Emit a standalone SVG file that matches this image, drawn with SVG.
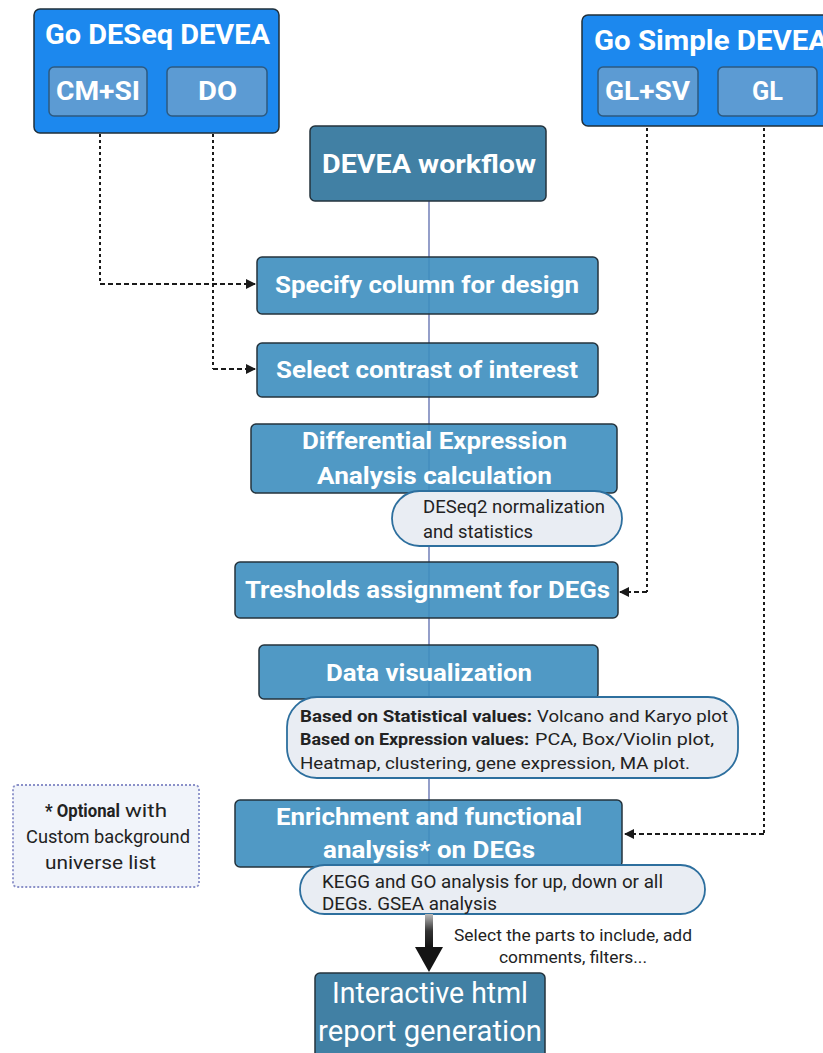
<svg xmlns="http://www.w3.org/2000/svg" width="823" height="1053" viewBox="0 0 823 1053">
<style>
.go{fill:#1c88ee;stroke:#1f2f3a;stroke-width:1.5}
.sub{fill:#5c9bd3;stroke:#2d5a80;stroke-width:1.5}
.step{fill:#3d8ebf;fill-opacity:0.9;stroke:#24333d;stroke-width:1.5}
.dark{fill:#37799f;fill-opacity:0.95;stroke:#24333d;stroke-width:1.5}
.pill{fill:#e9edf3;stroke:#2d6f9e;stroke-width:1.8}
.tw{font-family:Roboto,"Liberation Sans",sans-serif;font-weight:700;fill:#fff}
.tn{font-family:Roboto,"Liberation Sans",sans-serif;fill:#222}
.dot{fill:none;stroke:#1a1a1a;stroke-width:2;stroke-dasharray:3 3}
.dash{fill:none;stroke:#1a1a1a;stroke-width:2;stroke-dasharray:5 3}
</style>
<defs>
<marker id="ah" viewBox="0 0 10 10" refX="9" refY="5" markerWidth="5" markerHeight="5" orient="auto-start-reverse">
<path d="M0,0 L10,5 L0,10 z" fill="#1a1a1a"/>
</marker>
<linearGradient id="shaft" x1="0" y1="0" x2="0" y2="1">
<stop offset="0" stop-color="#bbbbbb"/>
<stop offset="0.5" stop-color="#333333"/>
<stop offset="1" stop-color="#111111"/>
</linearGradient>
</defs>

<g id="connectors">
<line x1="429" y1="201" x2="429" y2="865" stroke="#4e5ea6" stroke-width="1.2"/>
<path class="dot" d="M100,116 V284"/>
<path class="dash" d="M100,284 H255" marker-end="url(#ah)"/>
<path class="dot" d="M213,116 V369"/>
<path class="dash" d="M213,369 H255" marker-end="url(#ah)"/>
<path class="dot" d="M647,116 V592"/>
<path class="dash" d="M647,592 H620" marker-end="url(#ah)"/>
<path class="dot" d="M764,116 V834"/>
<path class="dash" d="M764,834 H625" marker-end="url(#ah)"/>
</g>

<g id="go-deseq">
<rect class="go" x="34" y="9" width="245" height="124" rx="6"/>
<text class="tw" x="45" y="44" font-size="27" textLength="225" lengthAdjust="spacingAndGlyphs">Go DESeq DEVEA</text>
<g id="cmsi"><rect class="sub" x="49" y="67" width="98" height="49" rx="5"/>
<text class="tw" x="56" y="100" font-size="26" textLength="84" lengthAdjust="spacingAndGlyphs">CM+SI</text></g>
<g id="do"><rect class="sub" x="167" y="67" width="100" height="49" rx="5"/>
<text class="tw" x="198" y="100" font-size="26" textLength="39" lengthAdjust="spacingAndGlyphs">DO</text></g>
</g>

<g id="go-simple">
<rect class="go" x="582" y="15" width="250" height="111" rx="6"/>
<text class="tw" x="594" y="50" font-size="27" textLength="234" lengthAdjust="spacingAndGlyphs">Go Simple DEVEA</text>
<g id="glsv"><rect class="sub" x="598" y="67" width="100" height="49" rx="5"/>
<text class="tw" x="605" y="100" font-size="26" textLength="85" lengthAdjust="spacingAndGlyphs">GL+SV</text></g>
<g id="gl"><rect class="sub" x="718" y="67" width="99" height="49" rx="5"/>
<text class="tw" x="752" y="100" font-size="26" textLength="31" lengthAdjust="spacingAndGlyphs">GL</text></g>
</g>

<g id="workflow">
<rect class="dark" x="310" y="126" width="236" height="75" rx="5"/>
<text class="tw" x="322" y="173" font-size="26" textLength="214" lengthAdjust="spacingAndGlyphs">DEVEA workflow</text>
</g>

<g id="specify">
<rect class="step" x="257" y="257" width="341" height="57" rx="5"/>
<text class="tw" x="275" y="293" font-size="24" textLength="304" lengthAdjust="spacingAndGlyphs">Specify column for design</text>
</g>

<g id="contrast">
<rect class="step" x="257" y="343" width="341" height="54" rx="5"/>
<text class="tw" x="276" y="378" font-size="24" textLength="302" lengthAdjust="spacingAndGlyphs">Select contrast of interest</text>
</g>

<g id="dea">
<rect class="step" x="251" y="424" width="366" height="69" rx="5"/>
<text class="tw" x="302" y="449" font-size="24" textLength="265" lengthAdjust="spacingAndGlyphs">Differential Expression</text>
<text class="tw" x="317" y="484" font-size="24" textLength="235" lengthAdjust="spacingAndGlyphs">Analysis calculation</text>
</g>

<g id="deseq2-note">
<rect class="pill" x="392" y="491" width="230" height="55" rx="27.5"/>
<text class="tn" x="423" y="513" font-size="18" textLength="182" lengthAdjust="spacingAndGlyphs">DESeq2 normalization</text>
<text class="tn" x="423" y="538" font-size="18" textLength="110" lengthAdjust="spacingAndGlyphs">and statistics</text>
</g>

<g id="thresholds">
<rect class="step" x="235" y="562" width="383" height="56" rx="5"/>
<text class="tw" x="245" y="598" font-size="24" textLength="365" lengthAdjust="spacingAndGlyphs">Tresholds assignment for DEGs</text>
</g>

<g id="dataviz">
<rect class="step" x="259" y="645" width="339" height="54" rx="5"/>
<text class="tw" x="326" y="681" font-size="24" textLength="206" lengthAdjust="spacingAndGlyphs">Data visualization</text>
</g>

<g id="dataviz-note">
<rect class="pill" x="287" y="697" width="451" height="81" rx="30"/>
<text class="tn" x="300" y="722" font-size="17" font-weight="700" textLength="232" lengthAdjust="spacingAndGlyphs">Based on Statistical values:</text>
<text class="tn" x="537" y="722" font-size="17" textLength="191" lengthAdjust="spacingAndGlyphs">Volcano and Karyo plot</text>
<text class="tn" x="300" y="745" font-size="17" font-weight="700" textLength="229" lengthAdjust="spacingAndGlyphs">Based on Expression values:</text>
<text class="tn" x="535" y="745" font-size="17" textLength="179" lengthAdjust="spacingAndGlyphs">PCA, Box/Violin plot,</text>
<text class="tn" x="300" y="769" font-size="17" textLength="390" lengthAdjust="spacingAndGlyphs">Heatmap, clustering, gene expression, MA plot.</text>
</g>

<g id="optional-note">
<rect x="13" y="785" width="186" height="102" rx="4" fill="#f1f4fa" stroke="#8a90c8" stroke-width="1.8" stroke-dasharray="2 2"/>
<text class="tn" x="45" y="817" font-size="18" font-weight="700" textLength="75" lengthAdjust="spacingAndGlyphs">* Optional</text>
<text class="tn" x="125" y="817" font-size="18" textLength="42" lengthAdjust="spacingAndGlyphs">with</text>
<text class="tn" x="26" y="843" font-size="18" textLength="164" lengthAdjust="spacingAndGlyphs">Custom background</text>
<text class="tn" x="45" y="869" font-size="18" textLength="111" lengthAdjust="spacingAndGlyphs">universe list</text>
</g>

<g id="enrichment">
<rect class="step" x="235" y="800" width="387" height="67" rx="5"/>
<text class="tw" x="276" y="825" font-size="24" textLength="306" lengthAdjust="spacingAndGlyphs">Enrichment and functional</text>
<text class="tw" x="323" y="858" font-size="24" textLength="212" lengthAdjust="spacingAndGlyphs">analysis* on DEGs</text>
</g>

<g id="enrichment-note">
<rect class="pill" x="300" y="865" width="405" height="49" rx="24.5"/>
<text class="tn" x="322" y="888" font-size="18" textLength="341" lengthAdjust="spacingAndGlyphs">KEGG and GO analysis for up, down or all</text>
<text class="tn" x="322" y="910" font-size="18" textLength="175" lengthAdjust="spacingAndGlyphs">DEGs. GSEA analysis</text>
</g>

<g id="report-arrow">
<rect x="425" y="914" width="8" height="34" fill="url(#shaft)"/>
<path d="M415,947 L443,947 L429,972 z" fill="#141414"/>
<text class="tn" x="454" y="941" font-size="16.5" textLength="238" lengthAdjust="spacingAndGlyphs">Select the parts to include, add</text>
<text class="tn" x="499" y="963" font-size="16.5" textLength="148" lengthAdjust="spacingAndGlyphs">comments, filters...</text>
</g>

<g id="report">
<rect class="dark" x="315" y="973" width="230" height="90" rx="5"/>
<text class="tw" x="332" y="1003" font-size="29" style="font-weight:400" textLength="196" lengthAdjust="spacingAndGlyphs">Interactive html</text>
<text class="tw" x="318" y="1041" font-size="29" style="font-weight:400" textLength="224" lengthAdjust="spacingAndGlyphs">report generation</text>
</g>
</svg>
